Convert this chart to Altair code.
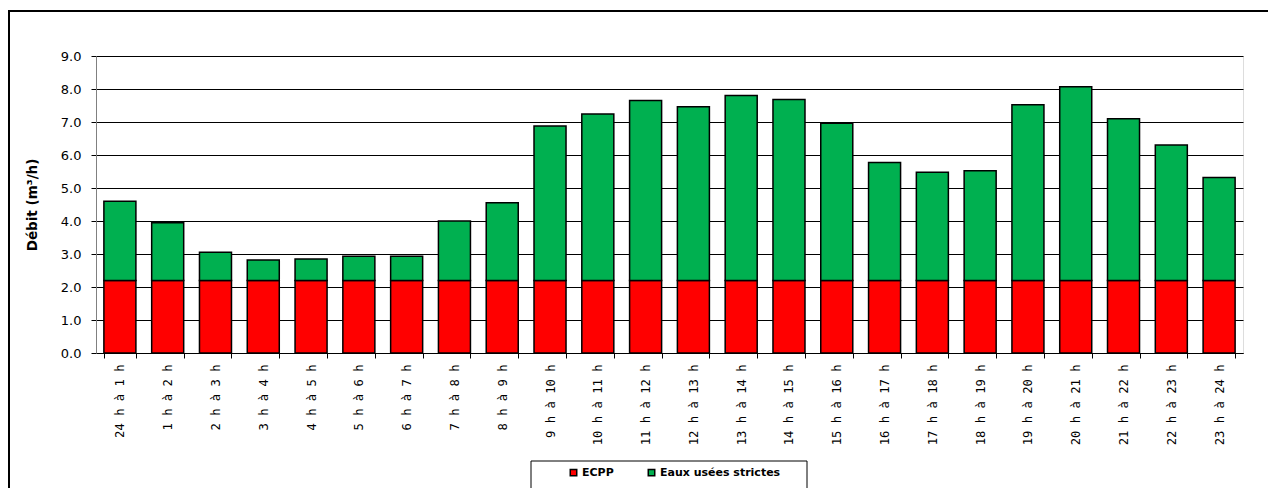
import altair as alt
import pandas as pd

categories = ["24 h à 1 h", "1 h à 2 h", "2 h à 3 h", "3 h à 4 h", "4 h à 5 h", "5 h à 6 h",
              "6 h à 7 h", "7 h à 8 h", "8 h à 9 h", "9 h à 10 h", "10 h à 11 h", "11 h à 12 h",
              "12 h à 13 h", "13 h à 14 h", "14 h à 15 h", "15 h à 16 h", "16 h à 17 h", "17 h à 18 h",
              "18 h à 19 h", "19 h à 20 h", "20 h à 21 h", "21 h à 22 h", "22 h à 23 h", "23 h à 24 h"]
ecpp = [2.2] * 24
eaux = [2.40, 1.75, 0.85, 0.62, 0.65, 0.73, 0.73, 1.80, 2.35, 4.68, 5.04, 5.45,
        5.26, 5.60, 5.48, 4.76, 3.57, 3.28, 3.32, 5.32, 5.87, 4.90, 4.10, 3.12]
series = ["ECPP", "Eaux usées strictes"]
colors = ["#FF0000", "#00B050"]

rows = []
for i, c in enumerate(categories):
    rows.append({"cat": c, "serie": series[0], "val": ecpp[i], "ord": 0})
    rows.append({"cat": c, "serie": series[1], "val": eaux[i], "ord": 1})
df = pd.DataFrame(rows)

FONT = "DejaVu Sans"

bars = alt.Chart(df).mark_bar(stroke="black", strokeWidth=1.5).encode(
    x=alt.X("cat:N", sort=categories, title=None,
            scale=alt.Scale(paddingInner=0.33, paddingOuter=0.165),
            axis=alt.Axis(labelAngle=-90, labelFont="DejaVu Sans Mono", labelFontSize=12.2,
                          labelColor="black",
                          tickBand="extent", tickSize=5, tickColor="black", domainColor="black",
                          labelPadding=6, grid=False)),
    y=alt.Y("val:Q", stack="zero", title="Débit (m³/h)",
            scale=alt.Scale(domain=[0, 9], nice=False),
            axis=alt.Axis(values=[0, 1, 2, 3, 4, 5, 6, 7, 8, 9], format=".1f",
                          labelFont=FONT, labelFontSize=13, labelColor="black", labelPadding=10,
                          titleFont=FONT, titleFontSize=13.5, titleFontWeight="bold",
                          titleColor="black", titlePadding=21,
                          gridColor="black", gridOpacity=1, gridWidth=1,
                          tickColor="black", tickSize=5, domainColor="#808080")),
    color=alt.Color("serie:N", sort=series,
                    scale=alt.Scale(domain=series, range=colors),
                    legend=alt.Legend(title=None, orient="none", legendX=472, legendY=411,
                                      direction="horizontal", symbolType="square",
                                      symbolSize=42, symbolStrokeColor="black", symbolStrokeWidth=1.5,
                                      labelFont=FONT, labelFontSize=11, labelFontWeight="bold",
                                      labelColor="black", padding=0, columnPadding=31,
                                      symbolOffset=0, labelOffset=3)),
    order=alt.Order("ord:Q", sort="ascending"),
)

one = alt.Data(values=[{"a": 1}])

border = alt.Chart(one).mark_rect(
    fill="white", fillOpacity=0, stroke="black", strokeWidth=2, clip=False
).encode(x=alt.value(-87), x2=alt.value(1190), y=alt.value(-45), y2=alt.value(450))

legend_box = alt.Chart(one).mark_rect(
    fill="white", stroke="black", strokeWidth=1, clip=False
).encode(x=alt.value(435), x2=alt.value(711), y=alt.value(405), y2=alt.value(433))

chart = alt.layer(border, legend_box, bars).properties(
    width=1147, height=297,
    autosize=alt.AutoSizeParams(type="none"),
    padding={"left": 88, "top": 48, "right": 25, "bottom": 135},
).configure_view(stroke=None).configure(background="white")

chart.save("out.html", embed_options={"renderer": "svg", "actions": False})
